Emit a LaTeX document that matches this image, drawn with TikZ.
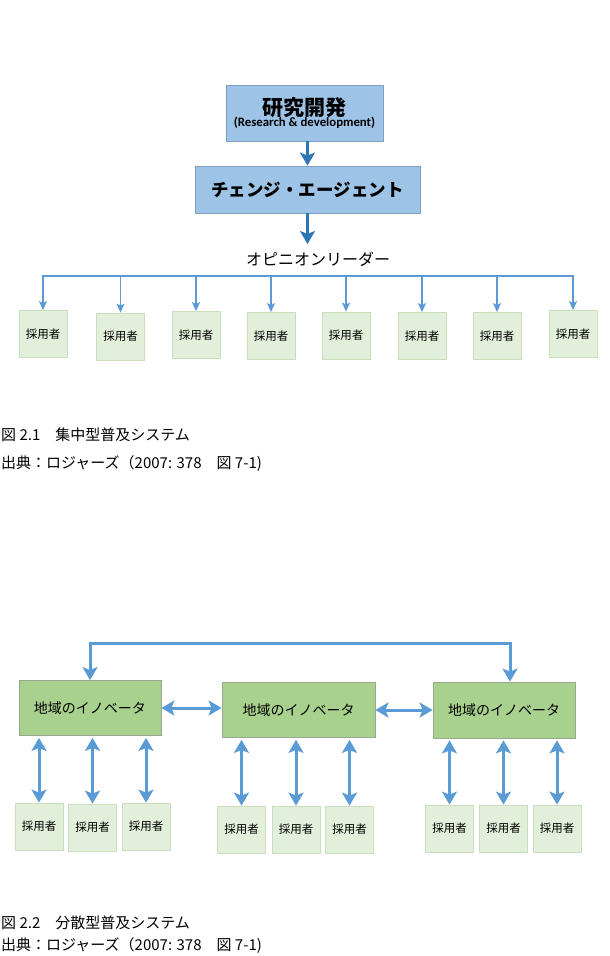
\documentclass[tikz,border=0pt]{standalone}
\usepackage{fontspec}
\setmainfont{Noto Sans CJK JP}
\newfontfamily\latinfont{Carlito}
\usetikzlibrary{arrows.meta,positioning}

\definecolor{rdfill}{HTML}{9DC3E6}
\definecolor{rdedge}{HTML}{7F9FC0}
\definecolor{arrowblue}{HTML}{5B9BD5}
\definecolor{arrowdark}{HTML}{2E75B6}
\definecolor{adfill}{HTML}{E2EFDA}
\definecolor{adedge}{HTML}{C9DFBB}
\definecolor{invfill}{HTML}{A9D18E}
\definecolor{invedge}{HTML}{98A88E}

\tikzset{
  rdbox/.style={draw=rdedge, fill=rdfill, line width=0.8pt, inner sep=0pt, align=center},
  adopter/.style={draw=adedge, fill=adfill, line width=0.8pt, minimum width=48, minimum height=47,
    inner sep=0pt, font=\fontsize{11.5}{12}\selectfont},
  innovator/.style={draw=invedge, fill=invfill, line width=0.8pt, minimum width=142, minimum height=55,
    inner sep=0pt, font=\fontsize{14}{15}\selectfont},
  thinline/.style={draw=arrowblue, line width=1.5pt},
  thinarrow/.style={thinline, -{Stealth[length=9pt,width=8pt,inset=2pt]}},
  fatarrow/.style={draw=arrowblue, line width=3pt, {Stealth[length=13pt,width=15pt,inset=3pt]}-{Stealth[length=13pt,width=15pt,inset=3pt]}},
  darkarrow/.style={draw=arrowdark, line width=3pt, -{Stealth[length=13pt,width=15pt,inset=3pt]}},
  caption/.style={anchor=west, inner sep=0pt, font=\fontsize{15}{16}\selectfont}
}

\begin{document}
\begin{tikzpicture}[x=1pt,y=-1pt]
\useasboundingbox (0,0) rectangle (610,956);
\clip (0,0) rectangle (610,956);

% centralized system
\node[rdbox, minimum width=157, minimum height=56] (rd) at (304.5,113)
  {\fontsize{21}{22}\selectfont\bfseries 研究開発\\[-1pt]{\latinfont\bfseries\fontsize{12.8}{13}\selectfont (Research \& development)}};
\node[rdbox, minimum width=225, minimum height=47, font=\fontsize{17.5}{18}\selectfont\bfseries] (ca) at (307.5,189.5) {チェンジ・エージェント};
\draw[darkarrow] (ca.north |- rd.south) -- (ca.north);
\coordinate (olTop) at (307.5,244);
\draw[darkarrow] (ca.south) -- (olTop);
\node[font=\fontsize{16}{17}\selectfont] (ol) at (318,259) {オピニオンリーダー};

\foreach \i/\x/\y in {1/43/334,2/120.5/336.5,3/196/335,4/271/336,5/346/335.5,6/422/336,7/497/336,8/573/334}
  \node[adopter] (a\i) at (\x,\y) {採用者};
\coordinate (bus) at (0,276);
\draw[thinline, line cap=rect] (a1.north |- bus) -- (a8.north |- bus);
\foreach \i in {1,...,8}
  \draw[thinarrow] (a\i.north |- bus) -- (a\i.north);

\node[caption] (cap1) at (1,435) {図 2.1　集中型普及システム};
\node[caption] (src1) at (1,464) {出典：ロジャーズ（2007:  378　図 7-1)};

% decentralized system
\node[innovator] (invL) at (90,708) {地域のイノベータ};
\node[innovator, minimum width=153] (invM) at (298.5,710) {地域のイノベータ};
\node[innovator, minimum height=56] (invR) at (504,710) {地域のイノベータ};
\coordinate (loop) at (0,643);
\draw[fatarrow] (invL.north) -- (invL.north |- loop) -| ([xshift=6pt]invR.north);
\draw[fatarrow] (invL.east) -- (invL.east -| invM.west);
\draw[fatarrow] (invM.east) -- (invR.west);

\foreach \i/\x/\y in {1/39/826.5,2/92.5/827.5,3/146/826.5}
  \node[adopter] (bL\i) at (\x,\y) {採用者};
\foreach \i/\x/\y in {1/241.5/829.5,2/296/829.5,3/349.5/829.5}
  \node[adopter] (bM\i) at (\x,\y) {採用者};
\foreach \i/\x/\y in {1/449.5/828.5,2/503.5/828.5,3/557/828.5}
  \node[adopter] (bR\i) at (\x,\y) {採用者};
\foreach \i in {1,2,3}{
  \draw[fatarrow, shorten <=2pt] (bL\i.north |- invL.south) -- (bL\i.north);
  \draw[fatarrow, shorten <=2pt] (bM\i.north |- invM.south) -- (bM\i.north);
  \draw[fatarrow, shorten <=2pt] (bR\i.north |- invR.south) -- (bR\i.north);
}

\node[caption] (cap2) at (1,923) {図 2.2　分散型普及システム};
\node[caption] (src2) at (1,946) {出典：ロジャーズ（2007:  378　図 7-1)};
\end{tikzpicture}
\end{document}
